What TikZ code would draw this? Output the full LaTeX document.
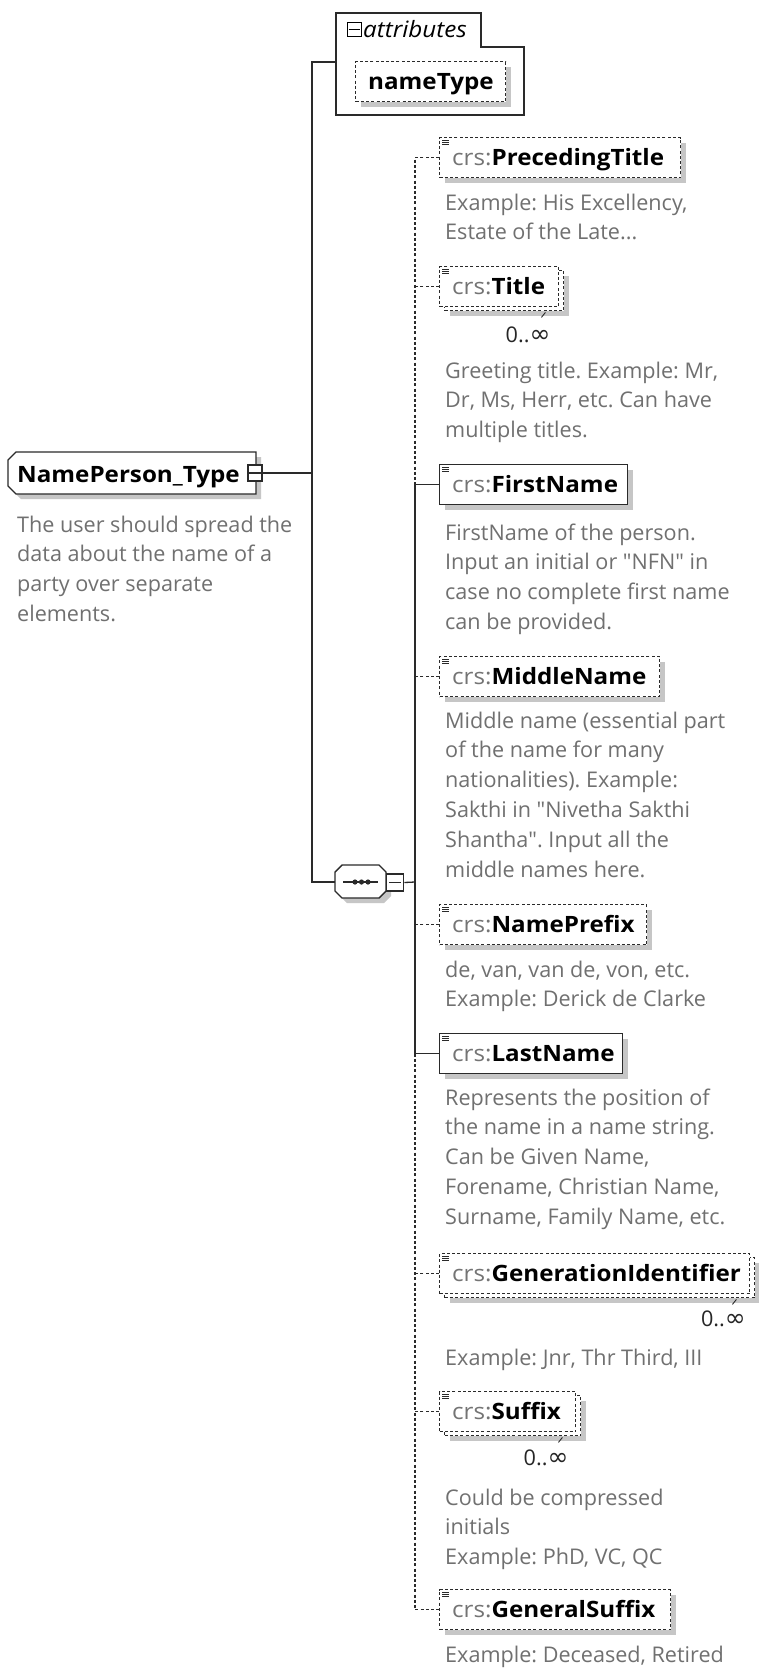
\documentclass[tikz,border=0pt]{standalone}
\usepackage{fontspec}
\setmainfont{Open Sans}
\newfontfamily\lblfont{Open Sans}[FakeStretch=1.075]
\newfontfamily\symfont{DejaVu Sans}
\usetikzlibrary{shadows}
\frenchspacing
\definecolor{descgray}{HTML}{707070}
\definecolor{crsgray}{HTML}{747474}
\definecolor{linec}{HTML}{2A2A2A}
\definecolor{shadowgray}{HTML}{C6C6C6}
\tikzset{
  shad/.style={drop shadow={shadow xshift=5pt,shadow yshift=-5pt,opacity=1,fill=shadowgray}},
  boxline/.style={draw=linec, line width=1.4pt},
  optline/.style={dash pattern=on 3pt off 2.2pt},
  conn/.style={draw=linec, line width=1.3pt},
  ebox/.style={boxline, fill=white, shad, rectangle, inner sep=0pt, minimum height=40pt, anchor=north west},
  ebare/.style={boxline, fill=white, rectangle, inner sep=0pt, minimum height=40pt, anchor=north west},
  lbl/.style={inner sep=0pt, anchor=base west, font=\lblfont\fontsize{22.5}{26}\selectfont},
  desc/.style={inner sep=0pt, anchor=base west, text=descgray, font=\fontsize{21.6}{26}\selectfont},
  mult/.style={inner sep=0pt, anchor=base, text=black!85, font=\fontsize{21.6}{26}\selectfont},
  tog/.style={draw=linec, fill=white, line width=1.3pt, inner sep=0pt},
}
\newcommand\elemlabel[1]{{\color{crsgray}crs:}\textbf{#1}}
\newcommand\infsym{{\symfont\fontsize{25}{26}\selectfont ∞}}
\newcommand\docicon[1]{%
  \foreach \dy in {3,5.3,7.6}{\draw[linec, line width=0.8pt] ([shift={(3pt,-\dy pt)}]#1.north west) -- ++(7pt,0pt);}}
\newcommand\descblock[4]{%
  \foreach \ln [count=\k] in {#4} {\node[desc] (#1-\k) at (#2, {#3+29.8*(\k-1)}) {\ln};}}
% name, x, y, width, label, extra style
\newcommand\elem[6]{%
  \node[ebox, #6, minimum width=#4pt] (#1) at (#2,#3) {};
  \docicon{#1}
  \node[lbl] (#1-l) at (#2+13,#3+28) {\elemlabel{#5}};}
% repeated element (double box)
\newcommand\elemrep[5]{%
  \node[ebox, optline, minimum width=#4pt] (#1-b) at (#2+5,#3+4) {};
  \node[ebare, optline, minimum width=#4pt] (#1) at (#2,#3) {};
  \docicon{#1}
  \draw[linec, line width=0.9pt] ([shift={(-14pt,-5pt)}]#1.south east) -- ++(-4pt,-5pt);
  \node[lbl] (#1-l) at (#2+13,#3+28) {\elemlabel{#5}};}
\begin{document}
\begin{tikzpicture}[x=1pt,y=-1pt]
\fill[white] (0,0) rectangle (759,1668);
\useasboundingbox (0,0) rectangle (759,1668);

% attributes box
\draw[boxline, fill=white] (336,13) -- (481,13) -- (481,47) -- (524,47) -- (524,115) -- (336,115) -- cycle;
\coordinate (attr-w) at (336,62);
\node[tog, draw=black, line width=1.6pt, minimum size=14pt] (attr-tog) at (354.5,29.5) {};
\draw[black, line width=1.4pt] ([xshift=2pt]attr-tog.west) -- ([xshift=-2pt]attr-tog.east);
\node[lbl, font=\lblfont\itshape\fontsize{22.5}{26}\selectfont] (attr-t) at (363,37) {attributes};
\node[ebox, optline, minimum width=150pt] (nt) at (355,61) {};
\node[lbl] (nt-l) at (368,89) {\textbf{nameType}};

% NamePerson_Type
\path[boxline, fill=white, shad] (16,452) -- (256,452) -- (256,494) -- (16,494) -- (8,486) -- (8,460) -- cycle;
\node[lbl] (np-l) at (17,482) {\textbf{NamePerson\_Type}};
\node[tog, minimum width=14pt, minimum height=16pt] (np-tog) at (255,473) {};
\draw[linec, line width=1.2pt] ([xshift=2pt]np-tog.west) -- ([xshift=-2pt]np-tog.east);
\descblock{nmd}{17}{532}{{The user should spread the},{data about the name of a},{party over separate},{elements.}}

% sequence
\path[boxline, fill=white, shad] (342,865) -- (379,865) -- (386,872) -- (386,891) -- (379,898) -- (342,898) -- (335,891) -- (335,872) -- cycle;
\coordinate (seq-w) at (335,882);
\draw[linec, line width=1.3pt] (343,882) -- (378,882);
\foreach \dx in {355,361.5,368} \fill[linec] (\dx,882) circle (2.6pt);
\node[tog, minimum size=17pt, anchor=west] (seq-tog) at (386,882.5) {};
\draw[linec, line width=1.2pt] ([xshift=3pt]seq-tog.west) -- ([xshift=-3pt]seq-tog.east);

% children
\elem{pt}{439}{137}{241}{PrecedingTitle}{optline}
\elemrep{ti}{439}{266}{119}{Title}
\elem{fn}{439}{464}{188}{FirstName}{}
\elem{mn}{439}{656}{220}{MiddleName}{optline}
\elem{nx}{439}{904}{207}{NamePrefix}{optline}
\elem{ln}{439}{1033}{183}{LastName}{}
\elemrep{gi}{439}{1253}{310}{GenerationIdentifier}
\elemrep{sf}{439}{1391}{136}{Suffix}
\elem{gs}{439}{1589}{231}{GeneralSuffix}{optline}

\node[mult] (ti-m) at (528,342) {0..\infsym};
\node[mult, anchor=base east] (gi-m) at (746,1326) {0..\infsym};
\node[mult] (sf-m) at (546,1465) {0..\infsym};

\descblock{ptd}{445}{210}{{Example: His Excellency,},{Estate of the Late.{}.{}.}}
\descblock{tid}{445}{378}{{Greeting title. Example: Mr,},{Dr, Ms, Herr, etc. Can have},{multiple titles.}}
\descblock{fnd}{445}{540}{{FirstName of the person.},{Input an initial or \textquotedbl NFN\textquotedbl{} in},{case no complete first name},{can be provided.}}
\descblock{mnd}{445}{728}{{Middle name (essential part},{of the name for many},{nationalities). Example:},{Sakthi in \textquotedbl Nivetha Sakthi},{Shantha\textquotedbl. Input all the},{middle names here.}}
\descblock{nxd}{445}{977}{{de, van, van de, von, etc.},{Example: Derick de Clarke}}
\descblock{lnd}{445}{1105}{{Represents the position of},{the name in a name string.},{Can be Given Name,},{Forename, Christian Name,},{Surname, Family Name, etc.}}
\descblock{gid}{445}{1365}{{Example: Jnr, Thr Third, III}}
\descblock{sfd}{445}{1505}{{Could be compressed},{initials},{Example: PhD, VC, QC}}
\descblock{gsd}{445}{1662}{{Example: Deceased, Retired}}

% connectors
\coordinate (mainTop) at (312,62);
\coordinate (mainBot) at (312,882);
\coordinate (vx) at (415,882);
\draw[conn] (attr-w) -- (mainTop) -- (mainBot) -- (seq-w);
\draw[conn] (np-tog.east) -- (np-tog.east -| mainTop);
\draw[conn] (seq-tog.east) -- (vx);
\draw[conn, optline] (pt.west) -- (pt.west -| vx) -- (fn.west -| vx);
\draw[conn, optline] (ti.west) -- (ti.west -| vx);
\draw[conn] (fn.west) -- (fn.west -| vx) -- (ln.west -| vx) -- (ln.west);
\draw[conn, optline] (mn.west) -- (mn.west -| vx);
\draw[conn, optline] (nx.west) -- (nx.west -| vx);
\draw[conn, optline] (ln.west -| vx) -- (gs.west -| vx) -- (gs.west);
\draw[conn, optline] (gi.west) -- (gi.west -| vx);
\draw[conn, optline] (sf.west) -- (sf.west -| vx);
\end{tikzpicture}
\end{document}
